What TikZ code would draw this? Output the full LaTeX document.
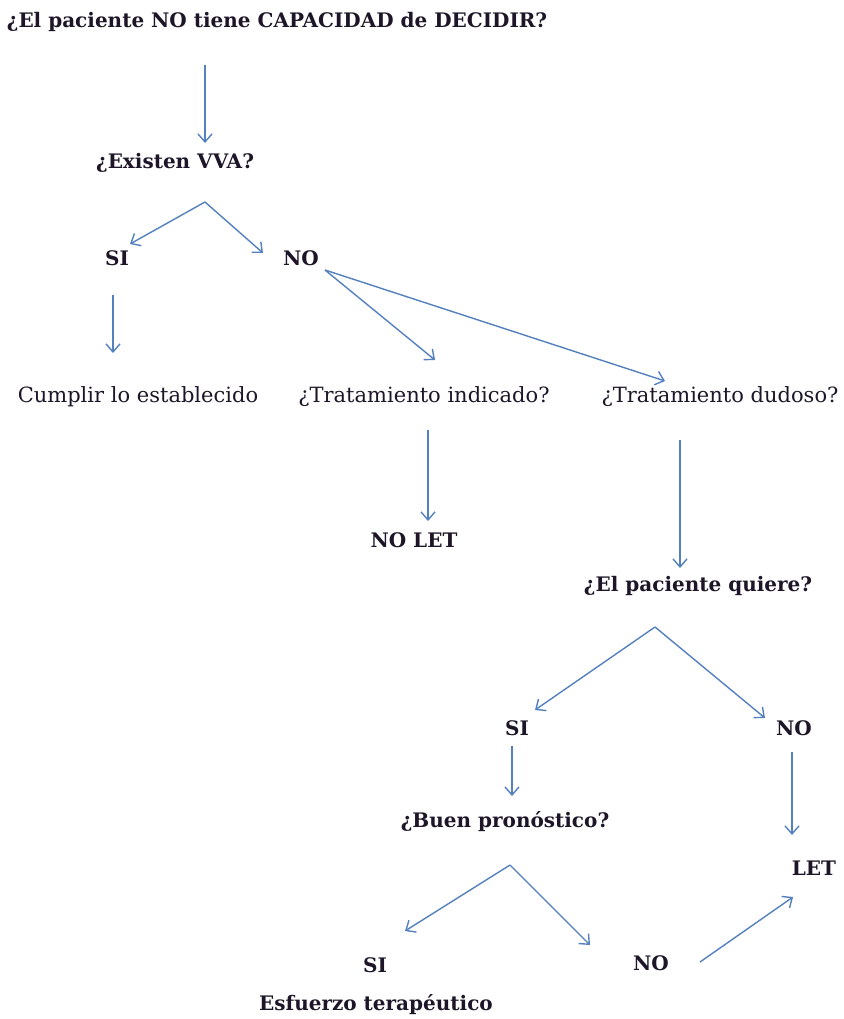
\documentclass[tikz,border=0pt]{standalone}
\usepackage{fontspec}
\setmainfont{DejaVu Serif}
\usetikzlibrary{arrows.meta}
\definecolor{arr}{RGB}{84,128,190}
\definecolor{txt}{RGB}{30,22,40}
\tikzset{
  lbl/.style={inner sep=0pt, text=txt, font=\fontsize{20}{24}\selectfont\bfseries},
  lblr/.style={inner sep=0pt, text=txt, font=\fontsize{21}{24}\selectfont},
  conn/.style={draw=arr, line width=1.4pt, -{Straight Barb[length=8pt,width=14pt]}}
}
\begin{document}
\begin{tikzpicture}[x=1pt,y=-1pt]
\useasboundingbox (0,0) rectangle (843,1019);
% texts
\node[lbl] (q1) at (277,22) {¿El paciente NO tiene CAPACIDAD de DECIDIR?};
\node[lbl] (vva) at (175,163) {¿Existen VVA?};
\node[lbl] (si1) at (117,258) {SI};
\node[lbl] (no1) at (301,258) {NO};
\node[lblr] (cum) at (138,397) {Cumplir lo establecido};
\node[lblr] (tind) at (424,397) {¿Tratamiento indicado?};
\node[lblr] (tdud) at (720,397) {¿Tratamiento dudoso?};
\node[lbl] (nolet) at (414,540) {NO LET};
\node[lbl] (quiere) at (698,586) {¿El paciente quiere?};
\node[lbl] (si2) at (517,728) {SI};
\node[lbl] (no2) at (794,728) {NO};
\node[lbl] (buen) at (505,822) {¿Buen pronóstico?};
\node[lbl] (let) at (814,868) {LET};
\node[lbl] (si3) at (375,965) {SI};
\node[lbl] (no3) at (651,963) {NO};
\node[lbl] (esf) at (376,1005) {Esfuerzo terapéutico};
% connector points
\coordinate (a1) at (205,65);  \coordinate (a2) at (205,143);
\coordinate (b0) at (205,202); \coordinate (b1) at (130,244); \coordinate (b2) at (263,253);
\coordinate (c1) at (113,295); \coordinate (c2) at (113,353);
\coordinate (d0) at (325,270); \coordinate (d1) at (435,360); \coordinate (d2) at (665,381);
\coordinate (e1) at (428,430); \coordinate (e2) at (428,521);
\coordinate (f1) at (680,440); \coordinate (f2) at (680,568);
\coordinate (g0) at (655,627); \coordinate (g1) at (535,710); \coordinate (g2) at (765,718);
\coordinate (h1) at (512,746); \coordinate (h2) at (512,796);
\coordinate (i1) at (792,752); \coordinate (i2) at (792,835);
\coordinate (j0) at (510,865); \coordinate (j1) at (405,931); \coordinate (j2) at (590,945);
\coordinate (k1) at (700,962); \coordinate (k2) at (793,897);
% connectors
\draw[conn] (a1) -- (a2);
\draw[conn] (b0) -- (b1);
\draw[conn] (b0) -- (b2);
\draw[conn] (c1) -- (c2);
\draw[conn] (d0) -- (d1);
\draw[conn] (d0) -- (d2);
\draw[conn] (e1) -- (e2);
\draw[conn] (f1) -- (f2);
\draw[conn] (g0) -- (g1);
\draw[conn] (g0) -- (g2);
\draw[conn] (h1) -- (h2);
\draw[conn] (i1) -- (i2);
\draw[conn] (j0) -- (j1);
\draw[conn] (j0) -- (j2);
\draw[conn] (k1) -- (k2);
\end{tikzpicture}
\end{document}
